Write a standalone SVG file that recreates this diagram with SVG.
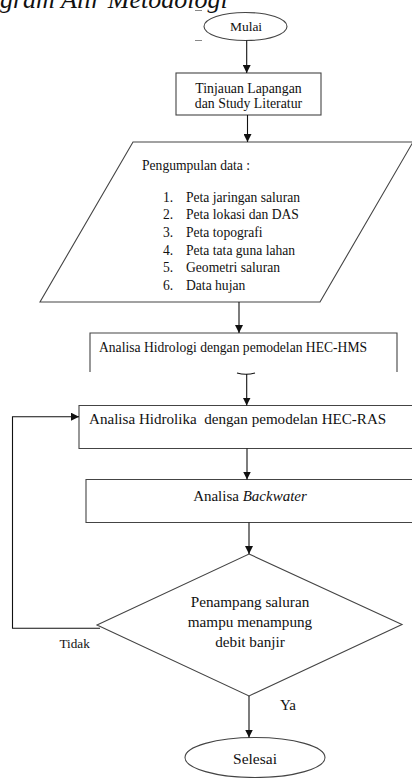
<svg xmlns="http://www.w3.org/2000/svg" width="412" height="778" viewBox="0 0 412 778">
<defs>
<marker id="ah" viewBox="0 0 10 10" refX="10" refY="5" markerWidth="8" markerHeight="8" markerUnits="userSpaceOnUse" orient="auto">
<path d="M0,0 L10,5 L0,10 z" fill="#111"/>
</marker>
<style>
.s{fill:none;stroke:#444;stroke-width:1.1}
.c{fill:none;stroke:#111;stroke-width:1.1}
.t{font-family:"Liberation Serif","Times New Roman",serif;fill:#111}
</style>
</defs>
<rect width="412" height="778" fill="#fff"/>
<text class="t" x="0" y="8" font-size="26" font-style="italic">gram Alir Metodologi</text>
<line x1="195" y1="10.5" x2="202" y2="10.5" stroke="#888" stroke-width="1"/>
<line x1="195" y1="40.5" x2="202" y2="40.5" stroke="#888" stroke-width="1"/>
<g id="mulai">
<ellipse class="s" cx="245.5" cy="26.5" rx="41.5" ry="14"/>
<text class="t" x="246" y="31" font-size="13.5" text-anchor="middle">Mulai</text>
</g>
<g id="tinjauan">
<rect class="s" x="176" y="73" width="145" height="42"/>
<text class="t" x="248.5" y="92.5" font-size="13.8" text-anchor="middle">Tinjauan Lapangan</text>
<text class="t" x="248.5" y="108" font-size="13.8" text-anchor="middle">dan Study Literatur</text>
</g>
<g id="pengumpulan">
<polygon class="s" points="133,142 413,142 320,302 40,302"/>
<text class="t" x="142" y="170" font-size="13.6">Pengumpulan data :</text>
<g font-size="13.6">
<text class="t" x="163" y="201.5">1.</text><text class="t" x="186" y="201.5">Peta jaringan saluran</text>
<text class="t" x="163" y="219">2.</text><text class="t" x="186" y="219">Peta lokasi dan DAS</text>
<text class="t" x="163" y="237">3.</text><text class="t" x="186" y="237">Peta topografi</text>
<text class="t" x="163" y="254.5">4.</text><text class="t" x="186" y="254.5">Peta tata guna lahan</text>
<text class="t" x="163" y="272">5.</text><text class="t" x="186" y="272">Geometri saluran</text>
<text class="t" x="163" y="290">6.</text><text class="t" x="186" y="290">Data hujan</text>
</g>
</g>
<g id="hidrologi">
<path class="s" d="M90,372 V333 H397 V372"/>
<text class="t" x="99" y="351.5" font-size="13.6">Analisa Hidrologi dengan pemodelan HEC-HMS</text>
</g>
<g id="hidrolika">
<path class="s" d="M420,405.5 H79 V448.5 H420"/>
<text class="t" x="89" y="423.5" font-size="15.1" style="white-space:pre">Analisa Hidrolika  dengan pemodelan HEC-RAS</text>
</g>
<g id="backwater">
<path class="s" d="M420,479.5 H86 V522.5 H420"/>
<text class="t" x="250" y="501" font-size="15" text-anchor="middle">Analisa <tspan font-style="italic">Backwater</tspan></text>
</g>
<g id="keputusan">
<polygon class="s" points="249,554 402,624.5 249,696 97,625"/>
<text class="t" x="250" y="607" font-size="15.2" text-anchor="middle">Penampang saluran</text>
<text class="t" x="250" y="627" font-size="15.2" text-anchor="middle">mampu menampung</text>
<text class="t" x="250" y="647" font-size="15.2" text-anchor="middle">debit banjir</text>
</g>
<g id="selesai">
<ellipse class="s" cx="255" cy="757.5" rx="70" ry="20"/>
<text class="t" x="255" y="763.5" font-size="15.5" text-anchor="middle">Selesai</text>
</g>
<g id="connectors">
<line class="c" x1="246.7" y1="40.5" x2="246.7" y2="73" marker-end="url(#ah)"/>
<line class="c" x1="247.5" y1="115" x2="247.5" y2="142" marker-end="url(#ah)"/>
<line class="c" x1="239" y1="302" x2="239" y2="333" marker-end="url(#ah)"/>
<path class="c" d="M237,373 Q246,375.5 255,373"/>
<line class="c" x1="246.7" y1="374" x2="246.7" y2="405.5" marker-end="url(#ah)"/>
<line class="c" x1="247" y1="448.5" x2="247" y2="479.5" marker-end="url(#ah)"/>
<line class="c" x1="249" y1="522.5" x2="249" y2="554" marker-end="url(#ah)"/>
<line class="c" x1="249" y1="696" x2="249" y2="737.5" marker-end="url(#ah)"/>
<polyline class="c" points="100,628.3 12.5,628.3 12.5,416.7 79,416.7" marker-end="url(#ah)"/>
<text class="t" x="59.5" y="648" font-size="13.2">Tidak</text>
<text class="t" x="280" y="710" font-size="15">Ya</text>
</g>
</svg>
